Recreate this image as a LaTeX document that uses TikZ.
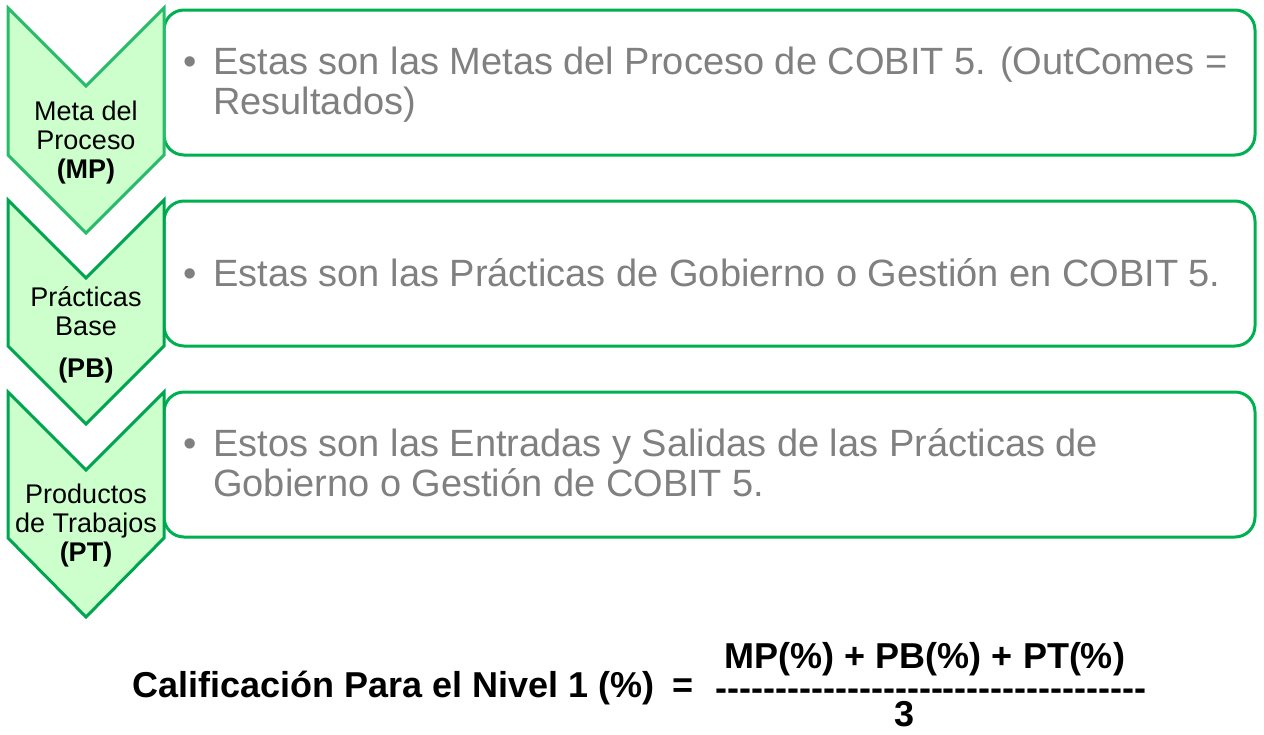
\documentclass[tikz,border=0pt]{standalone}
\usepackage{fontspec}
\setmainfont{Liberation Sans}
\usetikzlibrary{positioning}
\definecolor{cobitgreen}{HTML}{00B050}
\definecolor{chevgreen}{HTML}{00A550}
\definecolor{chevfill}{HTML}{CCFFCC}
\definecolor{bodygray}{HTML}{808080}
\tikzset{
  box/.style      ={draw=cobitgreen, line width=3pt, rounded corners=20pt, fill=white,
                    minimum width=1091pt, minimum height=145pt, inner sep=0pt},
  chevron/.style  ={draw=chevgreen, line width=3pt, fill=chevfill, line join=miter},
  steplabel/.style={align=center, inner sep=0pt, font=\fontsize{27}{29}\selectfont},
  bullettext/.style={anchor=west, inner sep=0pt, text=bodygray,
                    font=\fontsize{38}{40}\selectfont},
  formtext/.style ={inner sep=0pt, font=\fontsize{36}{40}\selectfont\bfseries},
}

\begin{document}
\begin{tikzpicture}[x=1pt, y=-1pt]
  \useasboundingbox (0,0) rectangle (1264,734);
  % boxes to the right
  \node[box] (mpbox) at (709.5,82.5)  {};
  \node[box] (pbbox) at (709.5,273.5) {};
  \node[box] (ptbox) at (709.5,464.5) {};
  % chevrons
  \draw[chevron, draw=cobitgreen!85!white] (8,8) -- (86,86) -- (164,8) -- (164,155) -- (86,233) -- (8,155) -- cycle;
  \draw[chevron] (8,200) -- (86,278) -- (164,200) -- (164,346) -- (86,424) -- (8,346) -- cycle;
  \draw[chevron] (8,392) -- (86,470) -- (164,392) -- (164,538) -- (86,617) -- (8,538) -- cycle;
  \node[steplabel] (mp) at (86,143) {Meta del\\Proceso\\\textbf{(MP)}};
  \node[steplabel] (pb) at (86,335) {Prácticas\\Base\\[13pt]\textbf{(PB)}};
  \node[steplabel] (pt) at (86,526) {Productos\\de Trabajos\\\textbf{(PT)}};
  % texts in the boxes
  \node[bullettext] (mptext) at (183,86)
    {\makebox[30pt][l]{\textbullet}\begin{tabular}[t]{@{}l@{}}Estas son las Metas del Proceso de COBIT 5. (OutComes =\\Resultados)\end{tabular}};
  \node[bullettext] (pbtext) at (183,273)
    {\makebox[30pt][l]{\textbullet}Estas son las Prácticas de Gobierno o Gestión en COBIT 5.};
  \node[bullettext] (pttext) at (183,468)
    {\makebox[30pt][l]{\textbullet}\begin{tabular}[t]{@{}l@{}}Estos son las Entradas y Salidas de las Prácticas de\\Gobierno o Gestión de COBIT 5.\end{tabular}};
  % formula
  \node[formtext, anchor=base west] (score) at (132,697) {Calificación Para el Nivel 1 (\%)};
  \node[formtext, anchor=base] (equals) at (683,697) {=};
  \node[formtext, anchor=base] (sum) at (925,668) {MP(\%) + PB(\%) + PT(\%)};
  \node[formtext, anchor=base, text height=14pt, text depth=0pt] (bar) at (931,700)
    {\foreach \k in {1,...,36}{\mbox{-}}};
  \node[formtext, anchor=base, text height=26pt, text depth=0pt] (three) at (905,726) {3};
\end{tikzpicture}
\end{document}
